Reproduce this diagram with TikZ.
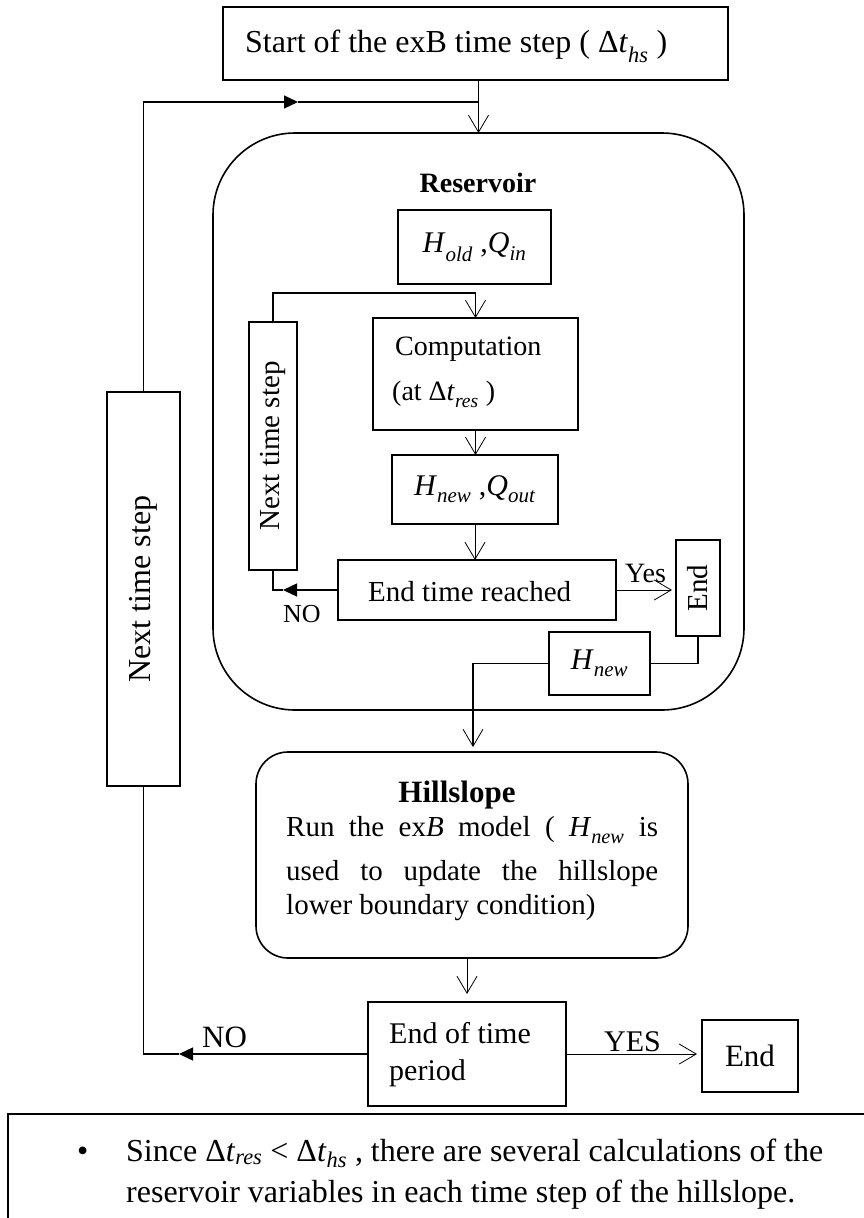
\documentclass[tikz,border=0pt]{standalone}
\usepackage{fontspec}
\setmainfont{Liberation Serif}
\usetikzlibrary{arrows.meta}
\newcommand\myfs[1]{\fontsize{#1}{#1}\selectfont}
\newcommand\vI[1]{\textit{#1}}
\newcommand\sbi[1]{\raisebox{-0.12em}{\textsubscript{\textit{#1}}}}
\newcommand\bx[7]{\node[#6, minimum width={#4-#2}, minimum height={#5-#3}] (#1) at ({(#2+#4)/2},{(#3+#5)/2}) {#7};}
\begin{document}
\begin{tikzpicture}[x=1pt,y=-1pt,
  boxs/.style={draw, line width=1.6pt, inner sep=0pt, outer sep=0pt},
  txt/.style={inner sep=0pt, anchor=base west},
  conn/.style={line width=1.4pt},
  tarr/.style={line width=0.8pt, -{Straight Barb[length=17pt,width=20pt,line width=0.8pt]}},
  farr/.style={line width=1.4pt, -{Triangle[length=14pt,width=13pt]}}]
\useasboundingbox (0,0) rectangle (863,1218);

% boxes
\bx{top}{223}{7}{728}{80}{boxs}{}
\node[txt, font=\myfs{32}] (toptxt) at (245,52) {Start of the exB time step ( Δ\vI{t}\sbi{hs} )};

\bx{res}{213}{133}{744}{710}{boxs, rounded corners=82pt}{}
\node[inner sep=0pt, anchor=base, font=\myfs{28}\bfseries] (restxt) at (478,192) {Reservoir};

\bx{hold}{398}{210}{551}{284}{boxs, font=\myfs{30}}{\vI{H}\sbi{old} ,\vI{Q}\sbi{in}}

\bx{comp}{373}{318}{578}{430}{boxs}{}
\node[txt, font=\myfs{28}] (comp1) at (395,355) {Computation};
\node[txt, font=\myfs{28}] (comp2) at (392,400) {(at Δ\vI{t}\sbi{res} )};

\bx{hnqo}{392}{455}{558}{524}{boxs, font=\myfs{30}}{\vI{H}\sbi{new} ,\vI{Q}\sbi{out}}

\bx{etr}{338}{560}{616}{620}{boxs}{}
\node[txt, font=\myfs{29}] (etrtxt) at (368,601) {End time reached};

\bx{endA}{676}{540}{720}{636}{boxs}{}
\node[rotate=90, font=\myfs{29}] (endAtxt) at (endA.center) {End};

\bx{hnew}{549}{632}{650}{695}{boxs, font=\myfs{30}}{\vI{H}\sbi{new}}

\bx{ntsI}{249}{322}{297}{570}{boxs}{}
\node[rotate=90, font=\myfs{29}] (ntsItxt) at (ntsI.center) {Next time step};

\bx{ntsO}{107}{392}{180}{786}{boxs}{}
\node[rotate=90, font=\myfs{32}] (ntsOtxt) at (ntsO.center) {Next time step};

\bx{hill}{256}{752}{688}{958}{boxs, rounded corners=32pt}{}
\node[inner sep=0pt, anchor=base, font=\myfs{31}\bfseries] (hilltxt) at (457,802) {Hillslope};
\node[txt, font=\myfs{29}] (hill1) at (286,836) {\makebox[372pt][s]{Run the ex\vI{B} model ( \vI{H}\sbi{new} is}};
\node[txt, font=\myfs{29}] (hill2) at (286,880) {\makebox[372pt][s]{used to update the hillslope}};
\node[txt, font=\myfs{29}] (hill3) at (286,914) {lower boundary condition)};

\bx{eotp}{368}{1002}{566}{1106}{boxs}{}
\node[txt, font=\myfs{30}] (eotp1) at (389,1043) {End of time};
\node[txt, font=\myfs{30}] (eotp2) at (389,1080) {period};

\bx{endB}{702}{1020}{798}{1092}{boxs, font=\myfs{31}}{End}

% note box
\coordinate (nA) at (8,1240);
\coordinate (nB) at (8,1114);
\coordinate (nC) at (880,1114);
\draw[line width=1.6pt] (nA) -- (nB) -- (nC);
\node[txt, font=\myfs{32}] (bul) at (77,1161) {•};
\node[txt, font=\myfs{32}] (note1) at (126,1161) {Since Δ\vI{t}\textsubscript{\textit{res}} < Δ\vI{t}\textsubscript{\textit{hs}} , there are several calculations of the};
\node[txt, font=\myfs{32}] (note2) at (126,1202) {reservoir variables in each time step of the hillslope.};

% helper coordinates
\coordinate (y102) at (0,102);
\coordinate (y293) at (0,293);
\coordinate (x473) at (473,0);
\coordinate (x467) at (467,0);
\coordinate (tipTop) at (298,102);
\coordinate (tipO) at (179,1054);
\coordinate (tipI) at (283,590);

% connectors
\draw[tarr] (res.north |- top.south) -- (res.north);
% outer loop
\draw[farr] (eotp.west) -- (tipO);
\draw[conn] (tipO) -- (ntsO.south |- eotp.west) -- (ntsO.south);
\draw[farr] (ntsO.north) -- (ntsO.north |- y102) -- (tipTop);
\draw[conn] (tipTop) -- (res.north |- y102);
\node[txt, font=\myfs{31}] (noO) at (202,1047) {NO};
% inner loop
\draw[farr] (etr.west) -- (tipI);
\draw[conn] (tipI) -- (ntsI.south |- etr.west) -- (ntsI.south);
\draw[conn] (ntsI.north) -- (ntsI.north |- y293) -- (comp.north |- y293);
\node[txt, font=\myfs{26}] (noI) at (283,622) {NO};
\draw[tarr] (comp.north |- y293) -- (comp.north);
\draw[tarr] (comp.south) -- (comp.south |- hnqo.north);
\draw[tarr] (hnqo.south) -- (hnqo.south |- etr.north);
\draw[tarr, shorten >=4pt] (etr.east) -- (endA.west |- etr.east);
\node[txt, font=\myfs{28}] (yesA) at (625,582) {Yes};
\draw[conn] (endA.south) -- (endA.south |- hnew.east) -- (hnew.east);
\draw[tarr, line width=1.2pt, shorten >=5pt] (hnew.west) -- (x473 |- hnew.west) -- (x473 |- hill.north);
\draw[tarr, shorten >=8pt] (x467 |- hill.south) -- (x467 |- eotp.north);
\draw[tarr, shorten >=5pt] (eotp.east) -- (endB.west |- eotp.east);
\node[txt, font=\myfs{30}] (yesB) at (604,1051) {YES};
\end{tikzpicture}
\end{document}
